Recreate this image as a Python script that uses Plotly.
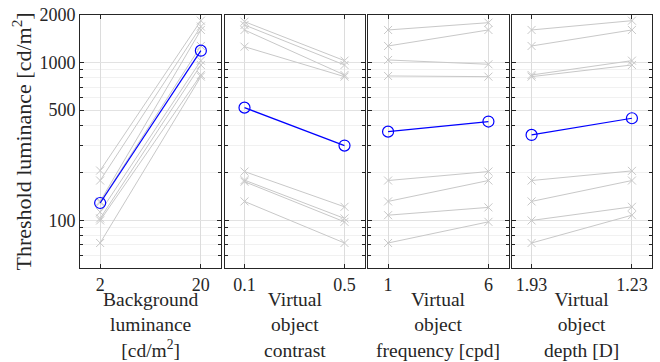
import plotly.graph_objects as go

# ---------------- data ----------------
bg_levels = ["2", "20"]
contrast_levels = ["0.1", "0.5"]
freq_levels = ["1", "6"]
depth_levels = ["1.93", "1.23"]

# gray lines: per-condition means (low level, high level)
bg_gray = [[207, 1841], [179, 1690], [132, 1608], [130, 1273],
           [113, 1028], [103, 965], [100, 834], [72, 814]]
contrast_gray = [[1815, 1028], [1729, 965], [1608, 834], [1260, 814],
                 [204, 122], [180, 103], [176, 98], [132, 72]]
freq_gray = [[1608, 1788], [1273, 1608], [1038, 975], [822, 814],
             [179, 204], [132, 179], [108, 121], [72, 98]]
depth_gray = [[1608, 1841], [1273, 1608], [834, 1028], [814, 965],
              [179, 206], [132, 179], [100, 122], [72, 108]]

# overall means (blue)
bg_mean = [129, 1189]
contrast_mean = [518, 298]
freq_mean = [365, 423]
depth_mean = [348, 444]

y_tickvals = [100, 500, 1000, 2000]
y_minor = [60, 70, 80, 90, 200, 300, 400, 600, 700, 800, 900]

panels = [
    (bg_levels, bg_gray, bg_mean, "Background<br>luminance<br>[cd/m<sup>2</sup>]"),
    (contrast_levels, contrast_gray, contrast_mean, "Virtual<br>object<br>contrast"),
    (freq_levels, freq_gray, freq_mean, "Virtual<br>object<br>frequency [cpd]"),
    (depth_levels, depth_gray, depth_mean, "Virtual<br>object<br>depth [D]"),
]

# ---------------- figure ----------------
W, H = 660, 362
ML, MR, MT, MB = 80, 8, 15, 94
PW = W - ML - MR
PH = H - MT - MB
px_domains = [(80, 221), (224.5, 364.5), (368, 508.5), (511.5, 652)]
domains = [((a - ML) / PW, (b - ML) / PW) for a, b in px_domains]

FONT = "Liberation Serif"
GRAY = "#c8c8c8"
AXC = "#262626"
TXT = "#262626"

fig = go.Figure()
for i, (levels, gray, mean, title) in enumerate(panels):
    n = "" if i == 0 else str(i + 1)
    for g in gray:
        fig.add_trace(go.Scatter(
            x=levels, y=g, mode="lines+markers",
            line=dict(color=GRAY, width=1),
            marker=dict(symbol="x-thin-open", size=8, line=dict(color=GRAY, width=1), color=GRAY),
            xaxis="x" + n, yaxis="y" + n, showlegend=False, hoverinfo="skip"))
    fig.add_trace(go.Scatter(
        x=levels, y=mean, mode="lines+markers",
        line=dict(color="#0000ff", width=1.2),
        marker=dict(symbol="circle-open", size=11, line=dict(color="#0000ff", width=1.2)),
        xaxis="x" + n, yaxis="y" + n, showlegend=False))

    fig.layout["xaxis" + n] = dict(
        domain=list(domains[i]), anchor="y" + n, type="category",
        range=[-0.2, 1.2], categoryorder="array", categoryarray=levels,
        showline=True, linecolor=AXC, linewidth=1, mirror="allticks",
        ticks="inside", ticklen=4, tickcolor=AXC,
        showgrid=True, gridcolor="#dcdcdc", gridwidth=1, zeroline=False,
        tickfont=dict(family=FONT, size=18, color=TXT),
        automargin=False,
    )
    fig.layout["yaxis" + n] = dict(
        domain=[0, 1], anchor="x" + n, type="log",
        range=[1.69897, 3.30103],
        tickmode="array", tickvals=y_tickvals, ticktext=[str(v) for v in y_tickvals],
        showticklabels=(i == 0),
        showline=True, linecolor=AXC, linewidth=1, mirror="allticks",
        ticks="inside", ticklen=4, tickcolor=AXC,
        showgrid=True, gridcolor="#e2e2e2", gridwidth=1, zeroline=False,
        minor=dict(tickmode="array", tickvals=y_minor, ticks="inside", ticklen=3,
                   tickcolor=AXC, showgrid=True, gridcolor="#f1f1f1", gridwidth=1),
        tickfont=dict(family=FONT, size=18, color=TXT),
        automargin=False,
    )
    cx = (domains[i][0] + domains[i][1]) / 2
    fig.add_annotation(
        text=title, x=cx, y=-(287 - (H - MB)) / PH, xref="paper", yref="paper",
        xanchor="center", yanchor="top", showarrow=False, align="center",
        font=dict(family=FONT, size=19.5, color=TXT))

fig.add_annotation(
    text="Threshold luminance [cd/m<sup>2</sup>]", textangle=-90,
    x=(21 - ML) / PW, y=0.5, xref="paper", yref="paper",
    xanchor="center", yanchor="middle", showarrow=False,
    font=dict(family=FONT, size=22, color=TXT))

fig.update_layout(
    width=W, height=H, margin=dict(l=ML, r=MR, t=MT, b=MB),
    plot_bgcolor="white", paper_bgcolor="white", showlegend=False,
)

fig.write_html("out.html", config={"displayModeBar": False},
               post_script="document.body.style.margin='0';document.body.style.overflow='hidden';")
